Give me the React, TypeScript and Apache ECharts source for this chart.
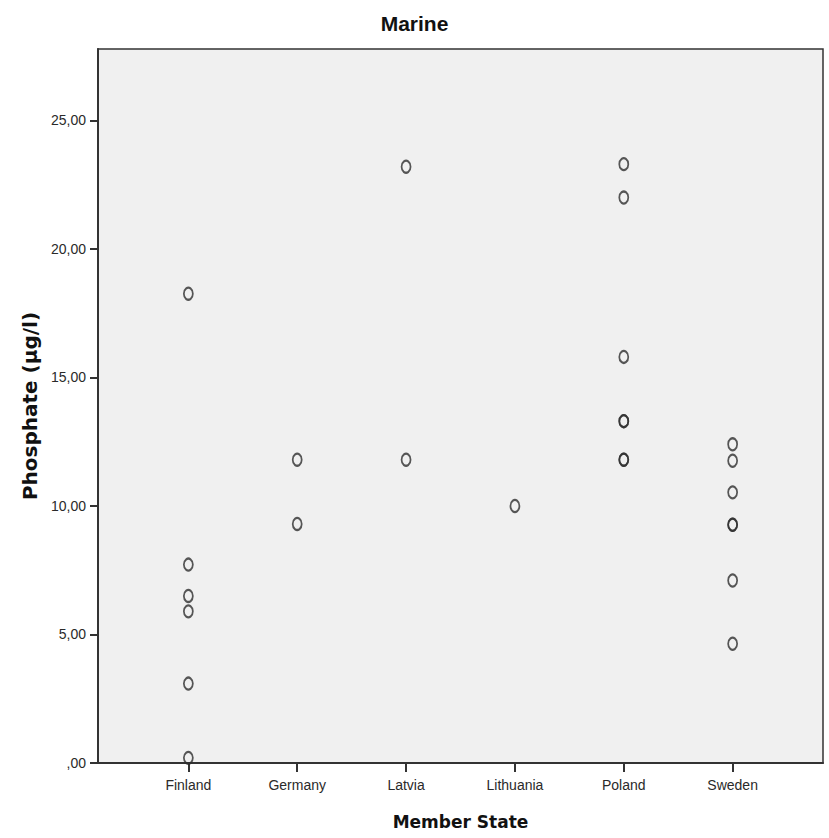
import React, { useEffect, useRef } from 'react';
import * as echarts from 'echarts';

// Member states on the category axis
const categories = ['Finland', 'Germany', 'Latvia', 'Lithuania', 'Poland', 'Sweden'];

// Phosphate (µg/l) per member state
const finland = [18.26, 7.72, 6.5, 5.9, 3.09, 0.2];
const germany = [11.8, 9.3];
const latvia = [23.2, 11.8];
const lithuania = [10.0];
const poland = [23.3, 22.0, 15.8, 13.3, 13.3, 11.8, 11.8];
const sweden = [12.4, 11.76, 10.53, 9.27, 9.27, 7.1, 4.64];

const yTicks = [0, 5, 10, 15, 20, 25];

const groups = [finland, germany, latvia, lithuania, poland, sweden];

const sans = "'Liberation Sans', Arial, sans-serif";
const bold = "'DejaVu Sans', Verdana, sans-serif";

function fmt(v: number): string {
  if (v === 0) return ',00';
  return v.toFixed(2).replace('.', ',');
}

export default function App() {
  const ref = useRef<HTMLDivElement>(null);

  useEffect(() => {
    const chart = echarts.init(ref.current!, null, { renderer: 'svg' });
    const points: number[][] = [];
    groups.forEach((vals, i) => vals.forEach((v) => points.push([i, v])));

    chart.setOption({
      animation: false,
      backgroundColor: '#ffffff',
      title: {
        text: 'Marine',
        left: 'center',
        top: 8,
        textStyle: { fontFamily: sans, fontSize: 21, fontWeight: 'bold', color: '#111' },
      },
      grid: {
        left: 98,
        right: 6,
        top: 49,
        bottom: 75,
        show: true,
        backgroundColor: '#f0f0f0',
        borderColor: '#333',
        borderWidth: 1.5,
      },
      xAxis: {
        type: 'value',
        min: -0.83,
        max: 5.83,
        name: 'Member State',
        nameLocation: 'middle',
        nameGap: 50,
        nameTextStyle: { fontFamily: bold, fontSize: 17, fontWeight: 'bold', color: '#111' },
        axisLine: { show: true, onZero: false, lineStyle: { color: '#333', width: 2 } },
        axisTick: { show: true, length: 9, customValues: [0, 1, 2, 3, 4, 5], lineStyle: { color: '#333', width: 2 } },
        axisLabel: {
          customValues: [0, 1, 2, 3, 4, 5],
          formatter: (v: number) => categories[Math.round(v)] ?? '',
          fontFamily: sans,
          fontSize: 14,
          color: '#2a2a2a',
          margin: 15,
        },
        splitLine: { show: false },
      },
      yAxis: {
        type: 'value',
        min: 0,
        max: 27.78,
        name: 'Phosphate (µg/l)',
        nameLocation: 'middle',
        nameGap: 49,
        nameTextStyle: { fontFamily: bold, fontSize: 20, fontWeight: 'bold', color: '#111' },
        axisLine: { show: true, onZero: false, lineStyle: { color: '#333', width: 2 } },
        axisTick: { show: true, length: 8, customValues: yTicks, lineStyle: { color: '#333', width: 2 } },
        axisLabel: {
          customValues: yTicks,
          formatter: (v: number) => fmt(v),
          fontFamily: sans,
          fontSize: 14,
          color: '#2a2a2a',
          margin: 12,
        },
        splitLine: { show: false },
      },
      series: [
        {
          type: 'scatter',
          data: points,
          symbol: 'circle',
          symbolSize: [9, 12],
          itemStyle: { color: 'rgba(0,0,0,0)', borderColor: '#2e2e2e', borderWidth: 2 },
          emphasis: { disabled: true },
        },
      ],
    });
    return () => chart.dispose();
  }, []);

  return (
    <div
      ref={ref}
      style={{ position: 'absolute', left: 0, top: 0, width: 829, height: 838 }}
    />
  );
}
